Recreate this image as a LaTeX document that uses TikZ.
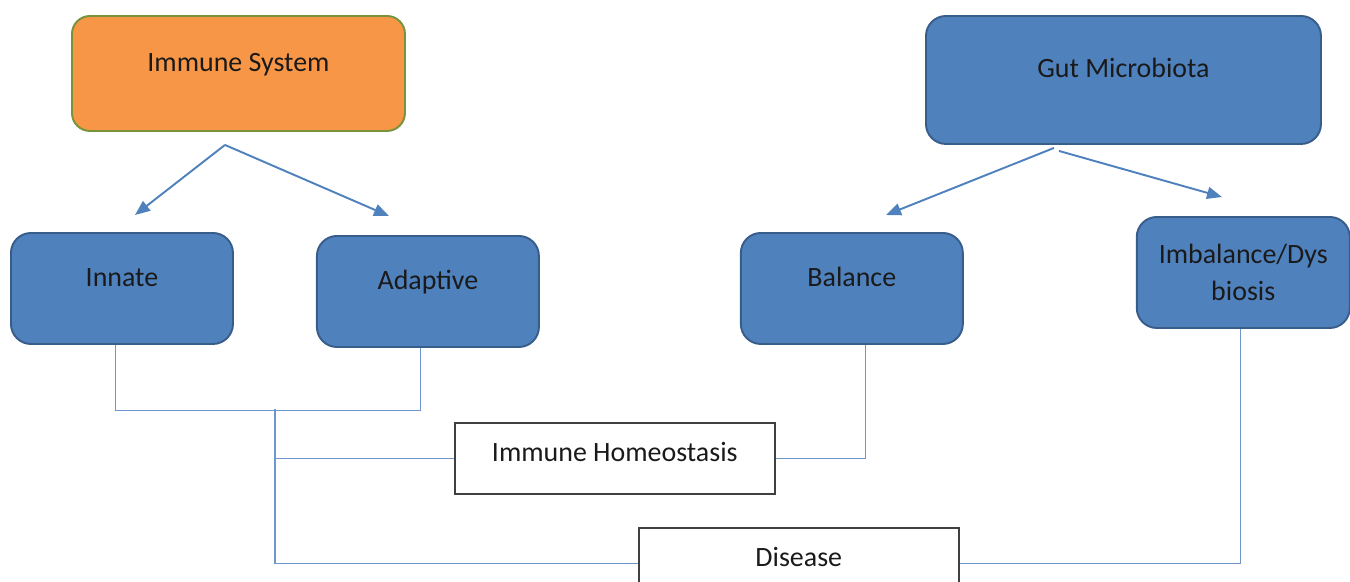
\documentclass[tikz,border=0pt]{standalone}
\usepackage{fontspec}
\setmainfont{Carlito}
\usepackage{tikz}
\usetikzlibrary{arrows.meta, positioning, calc}
\usepackage{xcolor}

\definecolor{boxblue}{HTML}{4F81BD}
\definecolor{boxline}{HTML}{385D8A}
\definecolor{boxorange}{HTML}{F79646}
\definecolor{orangeline}{HTML}{77933C}
\definecolor{linkblue}{HTML}{6F97CB}
\definecolor{txt}{HTML}{1A1A1A}

\begin{document}
\begin{tikzpicture}[
    node distance = 1.0cm and 1.2cm,
    every node/.style = {font=\fontsize{15.9pt}{21pt}\selectfont, text=txt},
    bluebox/.style = {rectangle, rounded corners=0.4cm, draw=boxline, line width=1.1pt, fill=boxblue, minimum width=4.44cm, minimum height=2.22cm, align=center},
    uptext/.style = {text height=0.4cm, text depth=0.48cm},
    plainbox/.style = {rectangle, draw=black!75, line width=0.9pt, fill=white, minimum width=6.4cm, minimum height=1.42cm, text height=0.4cm, text depth=0.26cm},
    link/.style = {draw=linkblue, line width=0.6pt},
    flow/.style = {-{Triangle[length=0.3cm, width=0.24cm]}, draw=boxblue, line width=1.1pt}
]
    \clip (0,0) rectangle (27,-11.62);

    % 1. Top boxes
    \node [bluebox, uptext, fill=boxorange, draw=orangeline, rounded corners=0.36cm, minimum width=6.66cm, minimum height=2.3cm, anchor=north west] (immune) at (1.42,-0.30) {Immune System};
    \node [bluebox, uptext, minimum width=7.9cm, minimum height=2.56cm, anchor=north west] (gut) at (18.5,-0.30) {Gut Microbiota};

    % 2. Second row
    \node [bluebox, uptext, anchor=north west] (innate) at (0.2,-4.64) {Innate};
    \node [bluebox, uptext, right=1.64cm of innate, yshift=-0.06cm] (adaptive) {Adaptive};
    \node [bluebox, uptext, right=4.0cm of adaptive, yshift=0.06cm] (balance) {Balance};
    \node [bluebox, minimum width=4.26cm, right=3.44cm of balance, yshift=0.32cm] (imbal) {Imbalance/Dys\\biosis};

    % 3. Outcomes
    \node [plainbox, anchor=north west] (homeo) at (9.08,-8.44) {Immune Homeostasis};
    \node [plainbox, anchor=north west] (disease) at (12.76,-10.54) {Disease};

    % 4. Arrows (free ends)
    \coordinate (imm_out) at ($(immune.south)+(-0.27,-0.26)$);
    \coordinate (gut_out_a) at ($(gut.south)+(-1.39,-0.06)$);
    \coordinate (gut_out_b) at ($(gut.south)+(-1.29,-0.12)$);
    \coordinate (to_innate) at (2.70,-4.30);
    \coordinate (to_adaptive) at (7.78,-4.32);
    \coordinate (to_balance) at (17.72,-4.30);
    \coordinate (to_imbal) at (24.44,-3.94);

    \draw [flow] (imm_out) -- (to_innate);
    \draw [flow] (imm_out) -- (to_adaptive);
    \draw [flow] (gut_out_a) -- (to_balance);
    \draw [flow] (gut_out_b) -- (to_imbal);

    % 5. Connections
    \draw [link] ([xshift=-0.12cm]innate.south) -- ++(0,-1.32) -| ([xshift=-0.14cm]adaptive.south);
    \coordinate (trunk) at (5.5,-8.18);
    \draw [link] (trunk) |- (disease.west);
    \draw [link] (trunk |- homeo.west) -- (homeo.west);
    \draw [link] ([xshift=0.28cm]balance.south) |- (homeo.east);
    \draw [link] ([xshift=-0.06cm]imbal.south) |- (disease.east);

\end{tikzpicture}
\end{document}
